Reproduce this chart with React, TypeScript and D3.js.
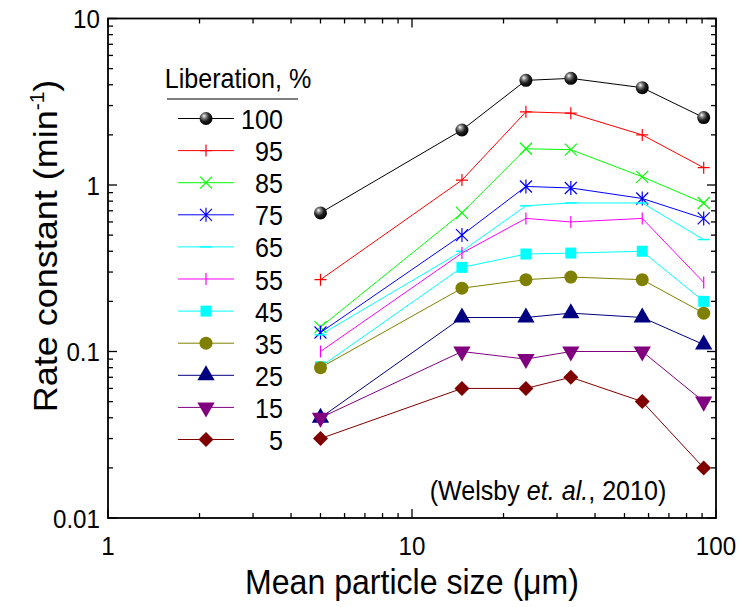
import React from "react";
import * as d3 from "d3";

const sizes = [5, 14.6, 23.7, 33.3, 57.2, 91.1];
const liberation = ["100", "95", "85", "75", "65", "55", "45", "35", "25", "15", "5"];
const k100 = [0.68, 2.14, 4.25, 4.37, 3.84, 2.54];
const k95 = [0.27, 1.07, 2.75, 2.7, 2.0, 1.27];
const k85 = [0.14, 0.68, 1.65, 1.63, 1.12, 0.78];
const k75 = [0.13, 0.5, 0.98, 0.96, 0.83, 0.63];
const k65 = [0.126, 0.4, 0.75, 0.78, 0.78, 0.47];
const k55 = [0.1, 0.39, 0.63, 0.6, 0.63, 0.26];
const k45 = [0.081, 0.32, 0.385, 0.39, 0.4, 0.2];
const k35 = [0.08, 0.24, 0.27, 0.28, 0.27, 0.17];
const k25 = [0.04, 0.16, 0.16, 0.17, 0.16, 0.11];
const k15 = [0.04, 0.1, 0.09, 0.1, 0.1, 0.05];
const k5 = [0.03, 0.06, 0.06, 0.07, 0.05, 0.02];
const seriesValues = [k100, k95, k85, k75, k65, k55, k45, k35, k25, k15, k5];
const colors = ["#000000", "#ff0000", "#00ff00", "#0000ff", "#00ffff", "#ff00ff", "#00ffff", "#808000", "#000080", "#800080", "#800000"];
const markers = ["sphere", "plus", "cross", "star", "hbar", "vbar", "square", "circle", "triUp", "triDown", "diamond"];
const xTicks = [1, 10, 100];
const yTicks = [0.01, 0.1, 1, 10];

const W = 741, H = 607;
const M = { left: 108, right: 716, top: 18.5, bottom: 518 };
const FONT = "'Liberation Sans', Arial, sans-serif";
const SX = 0.93;

function HText({ x, y, size, anchor, children }: { x: number; y: number; size: number; anchor: string; children: React.ReactNode }) {
  return (
    <text transform={`translate(${x},${y}) scale(${SX},1)`} fontSize={size} textAnchor={anchor} fill="#000">
      {children}
    </text>
  );
}

function Marker({ type, x, y, color }: { type: string; x: number; y: number; color: string }) {
  const s = 6;
  switch (type) {
    case "sphere":
      return <circle cx={x} cy={y} r={6.5} fill="url(#sphereGrad)" />;
    case "plus":
      return <path d={`M${x - s},${y}H${x + s}M${x},${y - s}V${y + s}`} stroke={color} strokeWidth={1.2} fill="none" />;
    case "cross":
      return <path d={`M${x - s},${y - s}L${x + s},${y + s}M${x - s},${y + s}L${x + s},${y - s}`} stroke={color} strokeWidth={1.2} fill="none" />;
    case "star":
      return <path d={`M${x - s},${y - s}L${x + s},${y + s}M${x - s},${y + s}L${x + s},${y - s}M${x},${y - s - 1}V${y + s + 1}`} stroke={color} strokeWidth={1.2} fill="none" />;
    case "hbar":
      return <path d={`M${x - s},${y}H${x + s}`} stroke={color} strokeWidth={1.4} fill="none" />;
    case "vbar":
      return <path d={`M${x},${y - s}V${y + s}`} stroke={color} strokeWidth={1.2} fill="none" />;
    case "square":
      return <rect x={x - 5.5} y={y - 5.5} width={11} height={11} fill={color} />;
    case "circle":
      return <circle cx={x} cy={y} r={6.5} fill={color} />;
    case "triUp": {
      const p = d3.symbol(d3.symbolTriangle, 130)();
      return <path d={p as string} transform={`translate(${x},${y})`} fill={color} />;
    }
    case "triDown": {
      const p = d3.symbol(d3.symbolTriangle, 130)();
      return <path d={p as string} transform={`translate(${x},${y}) rotate(180)`} fill={color} />;
    }
    case "diamond": {
      return <path d={`M${x},${y - 7.5}L${x + 7.5},${y}L${x},${y + 7.5}L${x - 7.5},${y}Z`} fill={color} />;
    }
  }
  return null;
}

export default function App() {
  const x = d3.scaleLog().domain([1, 100]).range([M.left, M.right]);
  const y = d3.scaleLog().domain([0.01, 10]).range([M.bottom, M.top]);
  const line = d3.line<number>().x((_, i) => x(sizes[i])).y((d) => y(d));

  const xMinor: number[] = [];
  for (const dec of [1, 10]) for (let m = 2; m <= 9; m++) xMinor.push(dec * m);
  const yMinor: number[] = [];
  for (const dec of [0.01, 0.1, 1]) for (let m = 2; m <= 9; m++) yMinor.push(dec * m);

  const maj = 9, min = 5;
  const legendX0 = 178, legendX1 = 234, legendMX = 206, legendY0 = 118.5, legendDY = 32.1;

  return (
    <svg width={W} height={H} style={{ position: "absolute", left: 0, top: 0, background: "#fff" }} fontFamily={FONT}>
      <defs>
        <radialGradient id="sphereGrad" cx="0.38" cy="0.35" r="0.65" fx="0.35" fy="0.3">
          <stop offset="0" stopColor="#ffffff" />
          <stop offset="0.25" stopColor="#8a8a8a" />
          <stop offset="0.6" stopColor="#202020" />
          <stop offset="1" stopColor="#000000" />
        </radialGradient>
      </defs>
      <rect width={W} height={H} fill="#fff" />

      {/* ticks */}
      <g stroke="#000" strokeWidth={1.3}>
        {xTicks.map((t) => (
          <g key={"xt" + t}>
            <line x1={x(t)} x2={x(t)} y1={M.bottom} y2={M.bottom - maj} />
            <line x1={x(t)} x2={x(t)} y1={M.top} y2={M.top + maj} />
          </g>
        ))}
        {xMinor.map((t) => (
          <g key={"xm" + t}>
            <line x1={x(t)} x2={x(t)} y1={M.bottom} y2={M.bottom - min} />
            <line x1={x(t)} x2={x(t)} y1={M.top} y2={M.top + min} />
          </g>
        ))}
        {yTicks.map((t) => (
          <g key={"yt" + t}>
            <line x1={M.left} x2={M.left + maj} y1={y(t)} y2={y(t)} />
            <line x1={M.right} x2={M.right - maj} y1={y(t)} y2={y(t)} />
          </g>
        ))}
        {yMinor.map((t) => (
          <g key={"ym" + t}>
            <line x1={M.left} x2={M.left + min} y1={y(t)} y2={y(t)} />
            <line x1={M.right} x2={M.right - min} y1={y(t)} y2={y(t)} />
          </g>
        ))}
      </g>
      <rect x={M.left} y={M.top} width={M.right - M.left} height={M.bottom - M.top} fill="none" stroke="#000" strokeWidth={1.8} />

      {/* tick labels */}
      {xTicks.map((t) => (
        <HText key={"xl" + t} x={x(t)} y={M.bottom + 37} size={26} anchor="middle">{d3.format("~g")(t)}</HText>
      ))}
      {yTicks.map((t) => (
        <HText key={"yl" + t} x={M.left - 8} y={y(t) + 9.5} size={26} anchor="end">{String(t)}</HText>
      ))}

      {/* axis titles */}
      <HText x={(M.left + M.right) / 2} y={594} size={34.5} anchor="middle">
        Mean particle size (μm)
      </HText>
      <text transform={`translate(57,246) rotate(-90) scale(1,${SX})`} textAnchor="middle" fontSize={36} fill="#000">
        Rate constant (min<tspan fontSize={21} dy={-14}>-1</tspan><tspan dy={14}>)</tspan>
      </text>

      {/* series */}
      {seriesValues.map((vals, si) => (
        <g key={"s" + si}>
          <path d={line(vals) as string} fill="none" stroke={colors[si]} strokeWidth={1} />
          {vals.map((v, i) => (
            <Marker key={i} type={markers[si]} x={x(sizes[i])} y={y(v)} color={colors[si]} />
          ))}
        </g>
      ))}

      {/* legend */}
      <HText x={238} y={87.5} size={27} anchor="middle">Liberation, %</HText>
      <line x1={167} x2={298} y1={99} y2={99} stroke="#555" strokeWidth={1.3} />
      {liberation.map((lab, i) => {
        const ly = legendY0 + i * legendDY;
        return (
          <g key={"lg" + lab}>
            <line x1={legendX0} x2={legendX1} y1={ly} y2={ly} stroke={colors[i]} strokeWidth={1} />
            <Marker type={markers[i]} x={legendMX} y={ly} color={colors[i]} />
            <HText x={283} y={ly + 10.5} size={27} anchor="end">{lab}</HText>
          </g>
        );
      })}

      {/* annotation */}
      <HText x={548} y={500} size={27} anchor="middle">
        (Welsby <tspan fontStyle="italic">et. al.</tspan>, 2010)
      </HText>
    </svg>
  );
}
